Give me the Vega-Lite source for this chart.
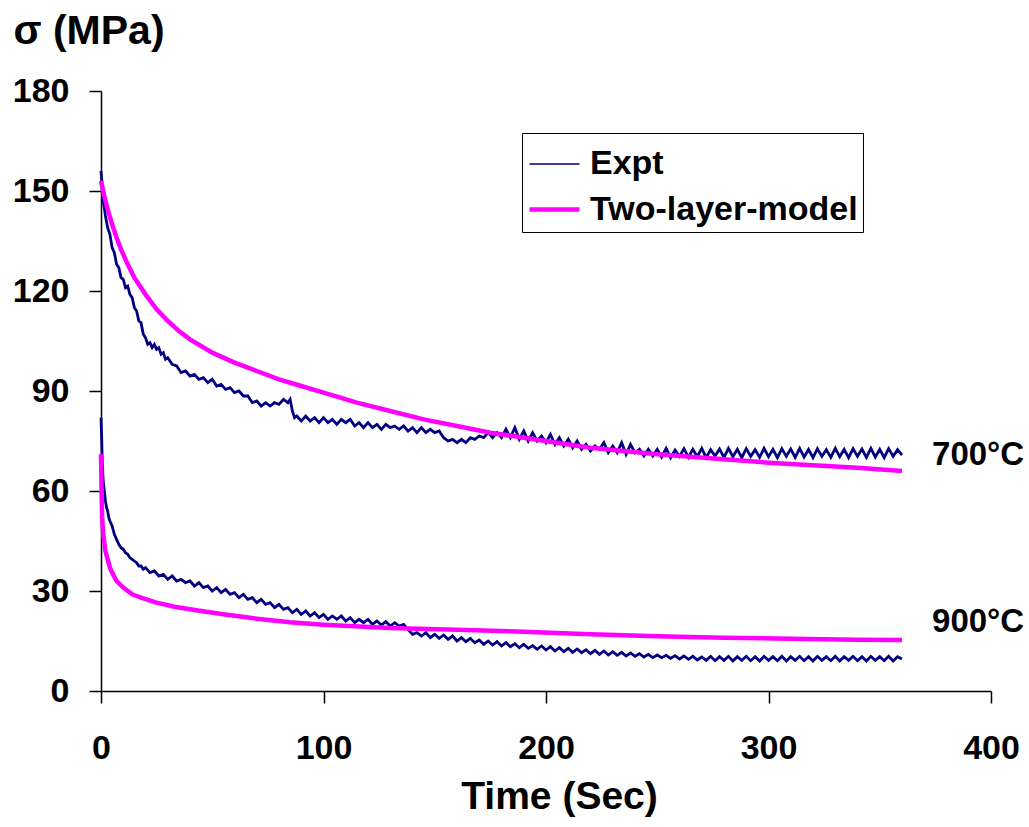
{
"$schema": "https://vega.github.io/schema/vega-lite/v6.json",
"autosize": "none",
"padding": {"left": 101, "top": 91, "right": 38, "bottom": 136},
"width": 890,
"height": 600,
"background": "#ffffff",
"config": {
  "view": {"stroke": null},
  "font": "Liberation Sans",
  "axis": {"grid": false, "domainColor": "#000", "domainWidth": 1.5, "tickColor": "#000", "tickWidth": 1.5, "tickSize": 12,
           "labelFont": "Liberation Sans", "labelFontWeight": "bold", "labelFontSize": 34, "labelColor": "#000",
           "titleFont": "Liberation Sans", "titleFontWeight": "bold", "titleColor": "#000"},
  "legend": {"orient": "none", "legendX": 421, "legendY": 42, "direction": "vertical",
             "labelFont": "Liberation Sans", "labelFontWeight": "bold", "labelFontSize": 34, "labelColor": "#000", "labelLimit": 500,
             "symbolType": "stroke", "symbolSize": 2500, "strokeColor": "#000", "fillColor": "#fff", "padding": 5, "rowPadding": 1, "labelOffset": 8}
},
"datasets": {
"e7": [
{"t":0,"s":156},{"t":0.5,"s":152},{"t":1,"s":147},{"t":1.5,"s":145},{"t":2,"s":142.5},{"t":3,"s":139},{"t":4,"s":137},{"t":5,"s":133},{"t":6,"s":131.5},{"t":7,"s":128},{"t":8,"s":127},{"t":9,"s":124},{"t":10,"s":123.5},{"t":11,"s":121},{"t":12,"s":121.5},{"t":13,"s":119},{"t":14,"s":118},{"t":15,"s":115},{"t":16,"s":114},{"t":17,"s":111},{"t":18,"s":110.5},{"t":19,"s":107},{"t":20,"s":106},{"t":21,"s":104},{"t":22,"s":104.5},{"t":23,"s":103},{"t":24,"s":104},{"t":25,"s":102.5},{"t":26,"s":103},{"t":27,"s":101},{"t":28,"s":101.5},{"t":29,"s":99.5},{"t":30,"s":100},
{"t":32,"s":98},{"t":34,"s":97.5},{"t":36,"s":95.5},{"t":38,"s":96},{"t":40,"s":94.5},{"t":42,"s":95},{"t":44,"s":93.5},{"t":46,"s":94},{"t":48,"s":92.5},{"t":50,"s":93.5},{"t":52,"s":91.5},{"t":54,"s":92},{"t":56,"s":90.5},{"t":58,"s":91},{"t":60,"s":89.5},{"t":62,"s":90},{"t":64,"s":88.5},{"t":66,"s":88.5},{"t":68,"s":86.5},{"t":70,"s":87},{"t":72,"s":85.5},{"t":74,"s":86.5},{"t":76,"s":85.5},{"t":78,"s":86.5},{"t":80,"s":86},{"t":82,"s":87.5},{"t":84,"s":86.5},{"t":85,"s":87.5},{"t":86,"s":84},{"t":87,"s":82},{"t":88,"s":82.5},{"t":90,"s":81},
{"t":92,"s":82.5},{"t":94,"s":81},{"t":96,"s":82},{"t":98,"s":80.5},{"t":100,"s":82},{"t":102,"s":80.5},{"t":104,"s":81.5},{"t":106,"s":80},{"t":108,"s":81.5},{"t":110,"s":80.5},{"t":112,"s":81.5},{"t":114,"s":79.5},{"t":116,"s":80.5},{"t":118,"s":79},{"t":120,"s":80.5},{"t":122,"s":79},{"t":124,"s":80},{"t":126,"s":78.5},{"t":128,"s":80},{"t":130,"s":79},{"t":132,"s":79.5},{"t":134,"s":78.5},{"t":136,"s":79.5},{"t":138,"s":78},{"t":140,"s":79},{"t":142,"s":77.5},{"t":144,"s":79},{"t":146,"s":77.5},{"t":148,"s":78.5},{"t":150,"s":77.5},{"t":152,"s":78},{"t":154,"s":76},{"t":156,"s":75},{"t":158,"s":75.5},{"t":160,"s":74.5},
{"t":162,"s":75.5},{"t":164,"s":74.5},{"t":166,"s":76},{"t":168,"s":75.5},{"t":170,"s":76.5},{"t":172,"s":76},{"t":174,"s":77.5},{"t":176,"s":76},{"t":178,"s":77.5},{"t":180,"s":76},{"t":182,"s":78.5},{"t":184,"s":76},{"t":186,"s":79},{"t":188,"s":75.5},{"t":190,"s":78},{"t":192,"s":75},{"t":194,"s":77.5},{"t":196,"s":75},{"t":198,"s":76.5},{"t":200,"s":74.5},{"t":202,"s":77},{"t":204,"s":74},{"t":206,"s":76},{"t":208,"s":73.5},{"t":210,"s":75.5},{"t":212,"s":73},{"t":214,"s":75},{"t":216,"s":72.5},{"t":218,"s":74},{"t":220,"s":72},{"t":222,"s":73.5},{"t":224,"s":72.5},{"t":226,"s":74.5},{"t":228,"s":71.5},{"t":230,"s":73.5},{"t":232,"s":71.5},{"t":234,"s":74.5},{"t":236,"s":71},{"t":238,"s":74},{"t":240,"s":71.5},{"t":242,"s":72.5},{"t":244,"s":70.5},{"t":246,"s":72.5},{"t":248,"s":70.5},
{"t":250,"s":72.5},{"t":252,"s":70.2},{"t":254,"s":72.8},{"t":256,"s":70},{"t":258,"s":72.3},{"t":260,"s":70.4},{"t":262,"s":72.7},{"t":264,"s":70.1},{"t":266,"s":72.5},{"t":268,"s":70.3},{"t":270,"s":72.8},{"t":272,"s":70},{"t":274,"s":72.4},{"t":276,"s":70.5},{"t":278,"s":72.6},{"t":280,"s":70.1},{"t":282,"s":72.8},{"t":284,"s":70.3},{"t":286,"s":72.5},{"t":288,"s":70},{"t":290,"s":72.7},{"t":292,"s":70.4},{"t":294,"s":72.4},{"t":296,"s":70.1},{"t":298,"s":72.8},{"t":300,"s":70.3},{"t":302,"s":72.5},{"t":304,"s":70},{"t":306,"s":72.7},{"t":308,"s":70.4},{"t":310,"s":72.6},{"t":312,"s":70.1},{"t":314,"s":72.8},{"t":316,"s":70.2},{"t":318,"s":72.5},{"t":320,"s":70},{"t":322,"s":72.7},{"t":324,"s":70.4},{"t":326,"s":72.4},{"t":328,"s":70.1},{"t":330,"s":72.8},{"t":332,"s":70.3},{"t":334,"s":72.5},{"t":336,"s":70},{"t":338,"s":72.7},{"t":340,"s":70.4},{"t":342,"s":72.6},{"t":344,"s":70.1},{"t":346,"s":72.8},{"t":348,"s":70.2},{"t":350,"s":72.5},{"t":352,"s":70},{"t":354,"s":72.7},{"t":356,"s":70.4},{"t":358,"s":72.4},{"t":360,"s":70.8}
],
"e9": [
{"t":0,"s":82},{"t":0.3,"s":76},{"t":0.6,"s":68},{"t":1,"s":63},{"t":1.5,"s":60},{"t":2,"s":57},{"t":2.5,"s":55},{"t":3,"s":54},{"t":3.5,"s":52},{"t":4,"s":51},{"t":5,"s":49.5},{"t":6,"s":47},{"t":7,"s":45.5},{"t":8,"s":44},{"t":9,"s":43},{"t":10,"s":42.5},{"t":11,"s":41.5},{"t":12,"s":41},{"t":13,"s":40},{"t":14,"s":39.5},{"t":15,"s":39},{"t":16,"s":38.5},{"t":17,"s":37.5},{"t":18,"s":37.5},{"t":19,"s":36.5},{"t":20,"s":37},
{"t":22,"s":35.5},{"t":24,"s":36},{"t":26,"s":34.5},{"t":28,"s":35},{"t":30,"s":33.5},{"t":32,"s":34.5},{"t":34,"s":33},{"t":36,"s":33.5},{"t":38,"s":32.5},{"t":40,"s":33},{"t":42,"s":31.5},{"t":44,"s":32.5},{"t":46,"s":31},{"t":48,"s":31.5},{"t":50,"s":30},{"t":52,"s":31},{"t":54,"s":29.5},{"t":56,"s":30.5},{"t":58,"s":29},{"t":60,"s":29.5},{"t":62,"s":28},{"t":64,"s":29},{"t":66,"s":27.5},{"t":68,"s":28},{"t":70,"s":26.5},{"t":72,"s":27.5},{"t":74,"s":26},{"t":76,"s":26.5},{"t":78,"s":25},{"t":80,"s":26},{"t":82,"s":24.5},{"t":84,"s":25},{"t":86,"s":23.5},{"t":88,"s":24.5},{"t":90,"s":23},{"t":92,"s":24},{"t":94,"s":22.5},{"t":96,"s":23.5},{"t":98,"s":22},{"t":100,"s":23},
{"t":102,"s":21.5},{"t":104,"s":22.5},{"t":106,"s":21.5},{"t":108,"s":22.5},{"t":110,"s":21},{"t":112,"s":22},{"t":114,"s":20.5},{"t":116,"s":21.5},{"t":118,"s":20.5},{"t":120,"s":21.5},{"t":122,"s":20},{"t":124,"s":21},{"t":126,"s":19.8},{"t":128,"s":20.8},{"t":130,"s":19.5},{"t":132,"s":20.5},{"t":134,"s":19.5},{"t":136,"s":20},{"t":138,"s":18.5},{"t":140,"s":17},{"t":142,"s":17.5},{"t":144,"s":16.5},{"t":146,"s":17.5},{"t":148,"s":16},{"t":150,"s":17},{"t":152,"s":15.8},{"t":154,"s":16.8},{"t":156,"s":15.5},{"t":158,"s":16.5},{"t":160,"s":15},{"t":162,"s":16},{"t":164,"s":14.8},{"t":166,"s":15.8},{"t":168,"s":14.5},{"t":170,"s":15.3},{"t":172,"s":14},{"t":174,"s":15},{"t":176,"s":13.8},{"t":178,"s":14.8},{"t":180,"s":13.5},
{"t":182,"s":14.5},{"t":184,"s":13.3},{"t":186,"s":14.2},{"t":188,"s":13},{"t":190,"s":14},{"t":192,"s":12.8},{"t":194,"s":13.6},{"t":196,"s":12.5},{"t":198,"s":13.5},{"t":200,"s":12.3},{"t":202,"s":13.3},{"t":204,"s":12},{"t":206,"s":13},{"t":208,"s":11.8},{"t":210,"s":12.8},{"t":212,"s":11.6},{"t":214,"s":12.6},{"t":216,"s":11.5},{"t":218,"s":12.4},{"t":220,"s":11.2},{"t":222,"s":12.2},{"t":224,"s":11},{"t":226,"s":12},{"t":228,"s":10.8},{"t":230,"s":11.8},{"t":232,"s":10.7},{"t":234,"s":11.6},{"t":236,"s":10.5},{"t":238,"s":11.4},{"t":240,"s":10.4},{"t":242,"s":11.2},{"t":244,"s":10.2},{"t":246,"s":11},{"t":248,"s":10},{"t":250,"s":10.8},{"t":252,"s":10},{"t":254,"s":10.7},{"t":256,"s":9.8},{"t":258,"s":10.6},{"t":260,"s":9.6},{"t":262,"s":10.5},{"t":264,"s":9.5},{"t":266,"s":10.4},{"t":268,"s":9.3},
{"t":270,"s":10.2},{"t":272,"s":9.2},{"t":274,"s":10.4},{"t":276,"s":9.1},{"t":278,"s":10.3},{"t":280,"s":9.2},{"t":282,"s":10.4},{"t":284,"s":9},{"t":286,"s":10.3},{"t":288,"s":9.2},{"t":290,"s":10.4},{"t":292,"s":9.1},{"t":294,"s":10.3},{"t":296,"s":9},{"t":298,"s":10.4},{"t":300,"s":9.2},{"t":302,"s":10.3},{"t":304,"s":9.1},{"t":306,"s":10.4},{"t":308,"s":9},{"t":310,"s":10.3},{"t":312,"s":9.2},{"t":314,"s":10.4},{"t":316,"s":9.1},{"t":318,"s":10.3},{"t":320,"s":9},{"t":322,"s":10.4},{"t":324,"s":9.2},{"t":326,"s":10.3},{"t":328,"s":9.1},{"t":330,"s":10.4},{"t":332,"s":9},{"t":334,"s":10.3},{"t":336,"s":9.2},{"t":338,"s":10.4},{"t":340,"s":9.1},{"t":342,"s":10.3},{"t":344,"s":9},{"t":346,"s":10.4},{"t":348,"s":9.2},{"t":350,"s":10.3},{"t":352,"s":9.1},{"t":354,"s":10.4},{"t":356,"s":9},{"t":358,"s":10.3},{"t":360,"s":9.6}
],
"m7": [
{"t":0,"s":153},{"t":1,"s":150},{"t":2,"s":147},{"t":3,"s":144.5},{"t":5,"s":140},{"t":7,"s":136},{"t":9,"s":132.5},{"t":12,"s":128},{"t":15,"s":124},{"t":20,"s":119},{"t":25,"s":114.5},{"t":30,"s":111},{"t":35,"s":108},{"t":40,"s":105.5},{"t":50,"s":101.5},{"t":60,"s":98.5},{"t":70,"s":96},{"t":80,"s":93.5},{"t":90,"s":91.5},{"t":100,"s":89.5},{"t":115,"s":86.5},{"t":130,"s":84},{"t":145,"s":81.5},{"t":160,"s":79.5},{"t":175,"s":77.5},{"t":190,"s":76},{"t":205,"s":74.5},{"t":220,"s":73},{"t":235,"s":72},{"t":250,"s":71},{"t":265,"s":70.3},{"t":280,"s":69.5},{"t":300,"s":68.5},{"t":320,"s":67.7},{"t":340,"s":67},{"t":360,"s":66}
],
"m9": [
{"t":0,"s":71},{"t":0.2,"s":62},{"t":0.5,"s":52},{"t":1,"s":47},{"t":2,"s":42},{"t":3,"s":39.5},{"t":4,"s":37},{"t":5,"s":35.5},{"t":7,"s":33},{"t":10,"s":31},{"t":14,"s":29},{"t":18,"s":28},{"t":25,"s":26.5},{"t":33,"s":25.3},{"t":45,"s":24},{"t":55,"s":23},{"t":70,"s":21.7},{"t":85,"s":20.6},{"t":100,"s":19.9},{"t":130,"s":18.9},{"t":160,"s":18.4},{"t":190,"s":17.8},{"t":220,"s":17},{"t":250,"s":16.4},{"t":280,"s":16},{"t":310,"s":15.7},{"t":340,"s":15.4},{"t":360,"s":15.3}
],
"labels": [
{"t":373.5,"s":67.8,"label":"700°C"},{"t":373.5,"s":17.7,"label":"900°C"}
]
},
"encoding": {
  "x": {"field": "t", "type": "quantitative",
        "scale": {"domain": [0, 400], "nice": false, "zero": false},
        "axis": {"values": [0, 100, 200, 300, 400], "title": "Time (Sec)", "titleFontSize": 39, "labelPadding": 28,
                 "titleX": 458, "titleY": 117, "titleBaseline": "alphabetic", "titleAlign": "center", "labelFlush": false}},
  "y": {"field": "s", "type": "quantitative",
        "scale": {"domain": [0, 180], "nice": false},
        "axis": {"values": [0, 30, 60, 90, 120, 150, 180], "title": "σ (MPa)", "titleFontSize": 41, "titleAngle": 0,
                 "titleX": -88, "titleY": -48, "titleAlign": "left", "titleBaseline": "alphabetic", "labelPadding": 20}}
},
"layer": [
  {"data": {"name": "e7"}, "mark": {"type": "line", "strokeWidth": 2.8},
   "encoding": {"color": {"datum": "Expt", "type": "nominal", "scale": {"domain": ["Expt", "Two-layer-model"], "range": ["#000080", "#FF00FF"]}, "legend": {"title": null}}}},
  {"data": {"name": "e9"}, "mark": {"type": "line", "strokeWidth": 2.8},
   "encoding": {"color": {"datum": "Expt", "type": "nominal"}}},
  {"data": {"name": "m7"}, "mark": {"type": "line"},
   "encoding": {"color": {"datum": "Two-layer-model", "type": "nominal"},
                "strokeWidth": {"datum": "Two-layer-model", "type": "ordinal", "scale": {"domain": ["Expt", "Two-layer-model"], "range": [1.5, 4.5]}, "legend": {"title": null}}}},
  {"data": {"name": "m9"}, "mark": {"type": "line"},
   "encoding": {"color": {"datum": "Two-layer-model", "type": "nominal"}, "strokeWidth": {"datum": "Two-layer-model", "type": "ordinal"}}},
  {"data": {"name": "labels"}, "mark": {"type": "text", "align": "left", "baseline": "alphabetic", "font": "Liberation Sans", "fontWeight": "bold", "fontSize": 33, "color": "#000"},
   "encoding": {"text": {"field": "label"}}}
]
}
